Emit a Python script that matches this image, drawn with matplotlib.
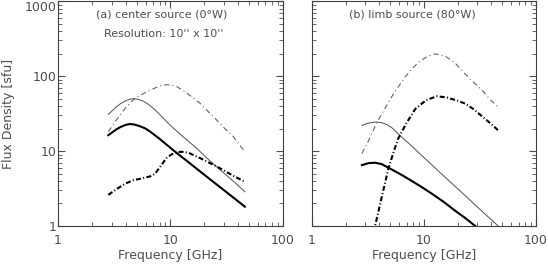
import numpy as np
import matplotlib
matplotlib.use("Agg")
import matplotlib.pyplot as plt

# panel (a) center source
fa_thin = [2.8, 3.0, 3.3, 3.6, 4.0, 4.4, 4.7, 5.2, 5.8, 6.6, 7.3, 8.0, 10.0, 13.0, 17.0, 22.5, 30.0, 38.0, 46.0]
sa_thin = [31.0, 34.0, 39.0, 43.0, 47.0, 49.5, 50.0, 49.0, 46.0, 40.5, 35.5, 31.0, 22.0, 15.5, 11.0, 7.4, 5.07, 3.73, 2.86]
fa_thick = [2.8, 3.0, 3.3, 3.6, 4.0, 4.37, 4.8, 5.3, 6.0, 6.6, 8.0, 10.0, 11.4, 14.0, 18.0, 23.0, 30.0, 38.0, 46.0]
sa_thick = [16.3, 17.6, 19.5, 21.0, 22.4, 23.0, 22.6, 21.6, 20.0, 18.2, 14.6, 11.05, 9.4, 7.4, 5.48, 4.1, 3.0, 2.27, 1.81]
fa_dd_thin = [2.8, 3.0, 3.3, 3.6, 4.0, 4.4, 4.7, 5.2, 5.8, 6.6, 7.5, 8.3, 9.25, 10.3, 11.5, 13.9, 18.3, 22.0, 25.8, 30.0, 36.2, 40.0, 46.0]
sa_dd_thin = [18.2, 21.0, 26.0, 31.0, 38.0, 44.0, 49.0, 54.0, 59.0, 65.0, 71.0, 75.0, 77.0, 76.0, 72.0, 60.0, 43.6, 33.0, 26.0, 20.5, 15.7, 12.8, 9.8]
fa_dd_thick = [2.8, 3.3, 4.0, 4.7, 5.5, 6.6, 7.3, 8.0, 8.6, 9.25, 10.2, 11.2, 12.6, 14.5, 17.0, 20.0, 22.5, 26.0, 30.0, 37.0, 46.0]
sa_dd_thick = [2.6, 3.1, 3.7, 4.1, 4.3, 4.6, 5.0, 6.0, 7.0, 8.1, 9.0, 9.6, 9.8, 9.5, 8.5, 7.6, 6.9, 6.2, 5.5, 4.6, 3.9]

# panel (b) limb source
fb_thin = [2.8, 3.1, 3.4, 3.8, 4.2, 4.7, 5.3, 6.1, 7.5, 9.0, 11.0, 13.5, 16.6, 21.0, 27.0, 35.0, 46.0]
sb_thin = [22.0, 23.3, 24.1, 24.4, 24.0, 22.5, 20.0, 16.2, 12.3, 9.5, 7.2, 5.4, 4.07, 2.95, 2.08, 1.45, 1.0]
fb_thick = [2.8, 3.2, 3.67, 4.2, 4.83, 5.5, 6.5, 8.0, 9.6, 12.0, 15.0, 19.0, 23.5, 28.7, 33.0]
sb_thick = [6.5, 6.9, 7.0, 6.7, 6.0, 5.4, 4.7, 3.9, 3.3, 2.65, 2.1, 1.6, 1.27, 1.0, 0.85]
fb_dd_thin = [2.8, 3.1, 3.4, 3.8, 4.3, 4.83, 5.5, 6.2, 6.8, 7.8, 8.95, 10.5, 12.2, 14.0, 16.0, 19.0, 23.4, 28.0, 33.0, 40.0, 46.0]
sb_dd_thin = [9.3, 12.5, 16.5, 24.0, 33.0, 45.0, 62.0, 80.0, 97.0, 125.0, 153.0, 180.0, 198.0, 194.0, 180.0, 150.0, 107.0, 82.0, 65.0, 47.0, 38.6]
fb_dd_thick = [3.4, 3.67, 4.2, 4.83, 5.4, 5.9, 7.0, 8.4, 10.5, 13.1, 16.0, 20.0, 23.4, 28.0, 34.0, 40.0, 46.0]
sb_dd_thick = [0.6, 1.0, 2.4, 5.9, 10.0, 14.7, 23.7, 36.7, 48.0, 54.0, 52.0, 47.0, 43.0, 36.0, 28.0, 23.0, 18.9]

title_a = "(a) center source (0°W)"
subtitle_a = "Resolution: 10'' x 10''"
title_b = "(b) limb source (80°W)"

txt = "0.3"
plt.rcParams['font.family'] = ['DejaVu Sans']

fig = plt.figure(figsize=(5.48, 2.64), dpi=100)
ax1 = fig.add_axes([0.106, 0.144, 0.410, 0.851])
ax2 = fig.add_axes([0.569, 0.144, 0.409, 0.851])

thin = dict(color="0.35", lw=0.75)
thick = dict(color="black", lw=1.5)
dd_thin = [5, 3, 1, 3]
dd_thick = [2.4, 1.1, 0.5, 1.1]

def draw(ax, ft, st, fk, sk, fdt, sdt, fdk, sdk):
    ax.plot(ft, st, **thin)
    ax.plot(fk, sk, **thick)
    ax.plot(fdt, sdt, dashes=dd_thin, **thin)
    ax.plot(fdk, sdk, dashes=dd_thick, **thick)

draw(ax1, fa_thin, sa_thin, fa_thick, sa_thick, fa_dd_thin, sa_dd_thin, fa_dd_thick, sa_dd_thick)
draw(ax2, fb_thin, sb_thin, fb_thick, sb_thick, fb_dd_thin, sb_dd_thin, fb_dd_thick, sb_dd_thick)

for ax in (ax1, ax2):
    ax.set_xscale("log")
    ax.set_yscale("log")
    ax.set_xlim(1, 100)
    ax.set_ylim(1, 1000)
    ax.tick_params(which="both", direction="in", top=True, right=True, colors="0.3", labelcolor=txt, labelsize=9)
    ax.tick_params(which="major", length=5, width=0.8)
    ax.tick_params(which="minor", length=3, width=0.6)
    ax.tick_params(axis="x", pad=6)
    ax.tick_params(axis="y", pad=1)
    for s in ax.spines.values():
        s.set_color("0.25")
        s.set_linewidth(0.8)
    ax.set_xticks([1, 10, 100])
    ax.set_xticklabels(["1", "10", "100"])
    ax.set_xlabel("Frequency [GHz]", color=txt, fontsize=9, labelpad=1)

ax1.set_yticks([1, 10, 100, 1000])
ylabs = ax1.set_yticklabels(["1", "10", "100", "1000"])
ylabs[-1].set_va("top")  # keep the top label inside the figure
ax1.set_ylabel("Flux Density [sfu]", color=txt, fontsize=9, labelpad=7)
ax2.set_yticks([1, 10, 100, 1000])
ax2.set_yticklabels([])

ax1.text(0.46, 0.94, title_a, transform=ax1.transAxes, ha="center", va="center", color=txt, fontsize=8)
ax1.text(0.47, 0.855, subtitle_a, transform=ax1.transAxes, ha="center", va="center", color=txt, fontsize=8)
ax2.text(0.45, 0.94, title_b, transform=ax2.transAxes, ha="center", va="center", color=txt, fontsize=8)

fig.savefig("out.png", dpi=100)
